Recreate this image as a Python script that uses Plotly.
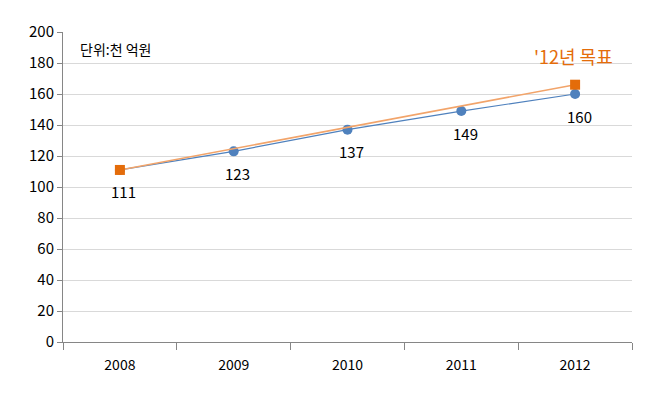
import plotly.graph_objects as go

years = ["2008", "2009", "2010", "2011", "2012"]
actual = [111, 123, 137, 149, 160]
target_years = ["2008", "2012"]
target = [111, 166]
y_ticks = [0, 20, 40, 60, 80, 100, 120, 140, 160, 180, 200]

font = "Noto Sans CJK KR, Noto Sans, sans-serif"
blue = "#4F81BD"
orange = "#E46C0A"
orange_line = "#F2A46A"

fig = go.Figure()
fig.add_trace(go.Scatter(
    x=years, y=actual, mode="lines+markers",
    line=dict(color=blue, width=1.2),
    marker=dict(symbol="circle", size=10, color=blue),
    showlegend=False, hoverinfo="skip",
))
fig.add_trace(go.Scatter(
    x=target_years, y=target, mode="lines+markers",
    line=dict(color=orange_line, width=1.6),
    marker=dict(symbol="square", size=10, color=orange),
    showlegend=False, hoverinfo="skip",
))

for i, (yr, v) in enumerate(zip(years, actual)):
    fig.add_annotation(x=i, y=v, xref="x", yref="y", text=str(v), showarrow=False,
                       xanchor="center", yanchor="middle", yshift=-22, xshift=4,
                       font=dict(size=15, color="#000000", family=font))

fig.add_annotation(x=0.027, y=0.945, xref="paper", yref="paper", text="단위:천 억원",
                   showarrow=False, xanchor="left", yanchor="middle",
                   font=dict(size=14, color="#000000", family=font))
fig.add_annotation(x=4, y=target[-1], xref="x", yref="y", text="'12년 목표",
                   showarrow=False, xanchor="center", yanchor="middle", yshift=29, xshift=-2,
                   font=dict(size=18, color=orange, family=font))

fig.update_layout(
    width=670, height=411,
    margin=dict(l=55, r=46, t=16, b=77),
    paper_bgcolor="white", plot_bgcolor="white",
    font=dict(family=font, size=15, color="#000000"),
)
fig.update_xaxes(
    type="category", tickson="boundaries", ticks="outside", ticklen=7,
    tickcolor="#868686", showline=True, linecolor="#868686", linewidth=1,
    showgrid=False, tickfont=dict(size=14, family=font), range=[-0.5, 4.5],
    ticklabelstandoff=10,
)
fig.update_yaxes(
    range=[0, 200], tickvals=y_ticks, ticks="outside", ticklen=5,
    tickcolor="#868686", showline=True, linecolor="#868686", linewidth=1,
    showgrid=True, gridcolor="#D9D9D9", gridwidth=1, zeroline=False,
    tickfont=dict(size=15, family=font),
)

fig.write_html("out.html")
